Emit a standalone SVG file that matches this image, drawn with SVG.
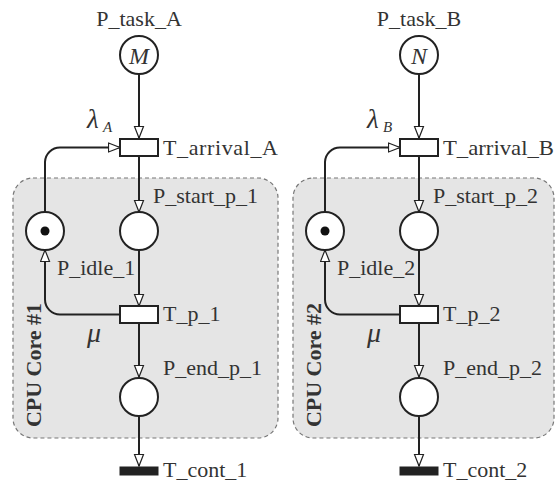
<svg xmlns="http://www.w3.org/2000/svg" width="556" height="483" viewBox="0 0 556 483">
  <style>
    .core { fill: #e5e5e5; stroke: #777; stroke-width: 1.2; stroke-dasharray: 4 3; }
    .place { fill: #fff; stroke: #222; stroke-width: 2; }
    .trans { fill: #fff; stroke: #222; stroke-width: 2; }
    .trans-imm { fill: #222; stroke: #222; stroke-width: 1; }
    .arc { fill: none; stroke: #222; stroke-width: 2; marker-end: url(#open); }
    .lbl { font-family: "Liberation Serif", "Times New Roman", serif; font-size: 22px; fill: #333; }
    .mid { text-anchor: middle; }
    .math { font-family: "Liberation Serif", "Times New Roman", serif; font-style: italic; fill: #333; }
    .corelbl { font-family: "Liberation Serif", "Times New Roman", serif; font-size: 22px; font-weight: bold; fill: #333; text-anchor: middle; }
  </style>
  <defs>
    <marker id="open" markerUnits="userSpaceOnUse" markerWidth="14" markerHeight="12" refX="12.5" refY="5.5" orient="auto" viewBox="0 0 14 12">
      <path d="M1,1 L12.5,5.5 L1,10 Z" fill="#fff" stroke="#222" stroke-width="1.2" stroke-linejoin="miter"/>
    </marker>
  </defs>

  <!-- CPU core regions -->
  <g id="core1">
    <rect class="core" x="13" y="178" width="265" height="260" rx="20" ry="20"/>
    <text class="corelbl" transform="rotate(-90)" x="-365" y="41">CPU Core #1</text>
  </g>
  <g id="core2">
    <rect class="core" x="293" y="178" width="261" height="260" rx="20" ry="20"/>
    <text class="corelbl" transform="rotate(-90)" x="-365" y="321">CPU Core #2</text>
  </g>

  <!-- arcs -->
  <g id="connectors">
    <path class="arc" d="M139,75 V138"/>
    <path class="arc" d="M45,212 V162 A15,15 0 0 1 60,147.5 H120"/>
    <path class="arc" d="M139,157 V212"/>
    <path class="arc" d="M139,250 V306"/>
    <path class="arc" d="M120,314.5 H60 A15,15 0 0 1 45,299.5 V250"/>
    <path class="arc" d="M139,323 V377"/>
    <path class="arc" d="M139,416 V466"/>

    <path class="arc" d="M419,75 V138"/>
    <path class="arc" d="M325,212 V162 A15,15 0 0 1 340,147.5 H400"/>
    <path class="arc" d="M419,157 V212"/>
    <path class="arc" d="M419,250 V306"/>
    <path class="arc" d="M400,314.5 H340 A15,15 0 0 1 325,299.5 V250"/>
    <path class="arc" d="M419,323 V377"/>
    <path class="arc" d="M419,416 V466"/>
  </g>

  <!-- branch A / core 1 -->
  <g id="P_task_A">
    <circle class="place" cx="139" cy="55" r="19"/>
    <text class="math mid" x="139" y="64" font-size="24">M</text>
    <text class="lbl mid" x="139" y="26">P_task_A</text>
  </g>
  <g id="T_arrival_A">
    <rect class="trans" x="120" y="139" width="38" height="17"/>
    <text class="lbl" x="163" y="155" textLength="115" lengthAdjust="spacing">T_arrival_A</text>
    <text class="math" x="87" y="128" font-size="27">λ</text>
    <text class="math" x="103" y="132" font-size="15">A</text>
  </g>
  <g id="P_start_p_1">
    <circle class="place" cx="139" cy="231" r="19"/>
    <text class="lbl" x="153" y="203">P_start_p_1</text>
  </g>
  <g id="P_idle_1">
    <circle class="place" cx="45" cy="231" r="19"/>
    <circle cx="45" cy="231" r="4.5" fill="#111"/>
    <text class="lbl" x="57" y="275">P_idle_1</text>
  </g>
  <g id="T_p_1">
    <rect class="trans" x="120" y="306" width="38" height="17"/>
    <text class="lbl" x="163" y="321">T_p_1</text>
    <text class="math" x="87" y="342" font-size="28">μ</text>
  </g>
  <g id="P_end_p_1">
    <circle class="place" cx="139" cy="397" r="19"/>
    <text class="lbl" x="163" y="375">P_end_p_1</text>
  </g>
  <g id="T_cont_1">
    <rect class="trans-imm" x="120" y="467" width="38" height="8"/>
    <text class="lbl" x="163" y="477">T_cont_1</text>
  </g>

  <!-- branch B / core 2 -->
  <g id="P_task_B">
    <circle class="place" cx="419" cy="55" r="19"/>
    <text class="math mid" x="419" y="64" font-size="24">N</text>
    <text class="lbl mid" x="419" y="26">P_task_B</text>
  </g>
  <g id="T_arrival_B">
    <rect class="trans" x="400" y="139" width="38" height="17"/>
    <text class="lbl" x="443" y="155" textLength="111" lengthAdjust="spacingAndGlyphs">T_arrival_B</text>
    <text class="math" x="367" y="128" font-size="27">λ</text>
    <text class="math" x="383" y="132" font-size="15">B</text>
  </g>
  <g id="P_start_p_2">
    <circle class="place" cx="419" cy="231" r="19"/>
    <text class="lbl" x="433" y="203">P_start_p_2</text>
  </g>
  <g id="P_idle_2">
    <circle class="place" cx="325" cy="231" r="19"/>
    <circle cx="325" cy="231" r="4.5" fill="#111"/>
    <text class="lbl" x="337" y="275">P_idle_2</text>
  </g>
  <g id="T_p_2">
    <rect class="trans" x="400" y="306" width="38" height="17"/>
    <text class="lbl" x="443" y="321">T_p_2</text>
    <text class="math" x="367" y="342" font-size="28">μ</text>
  </g>
  <g id="P_end_p_2">
    <circle class="place" cx="419" cy="397" r="19"/>
    <text class="lbl" x="443" y="375">P_end_p_2</text>
  </g>
  <g id="T_cont_2">
    <rect class="trans-imm" x="400" y="467" width="38" height="8"/>
    <text class="lbl" x="443" y="477">T_cont_2</text>
  </g>
</svg>
